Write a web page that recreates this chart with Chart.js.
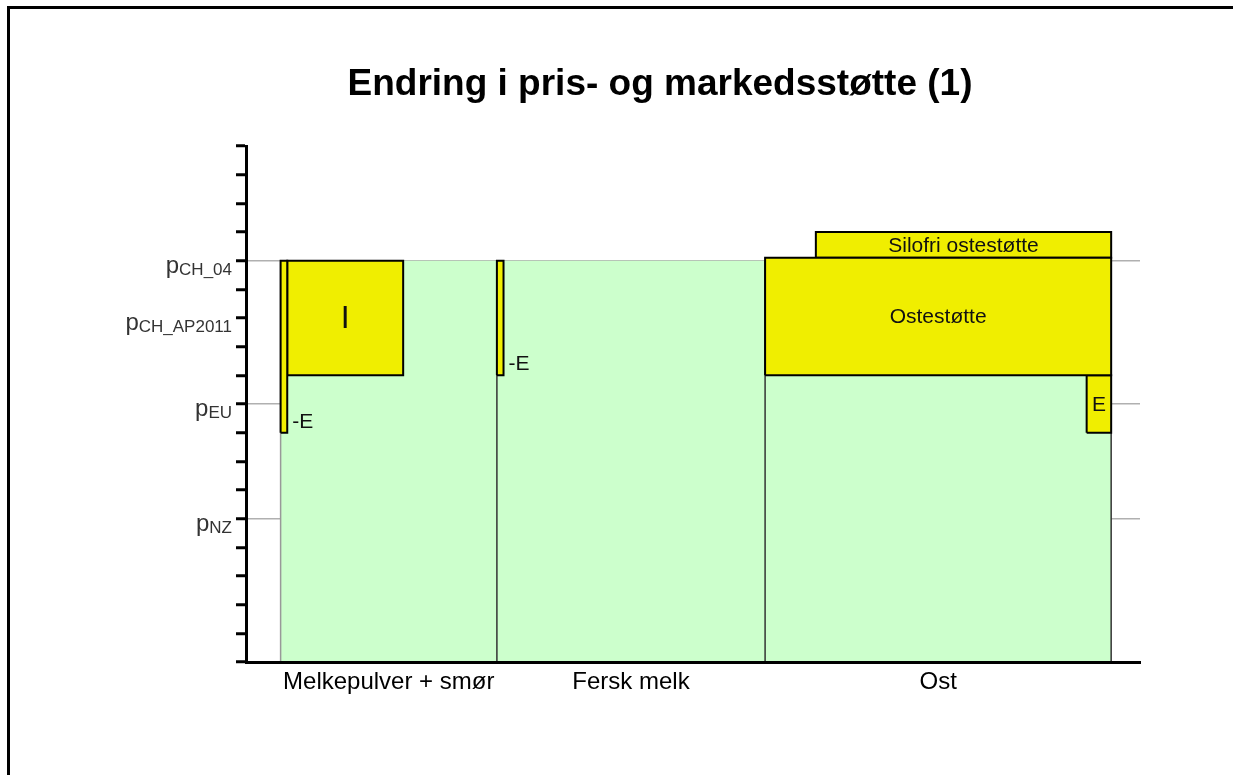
<!DOCTYPE html>
<html>
<head>
<meta charset="utf-8">
<script src="https://cdn.jsdelivr.net/npm/chart.js@4.4.0/dist/chart.umd.min.js"></script>
<style>
  html, body { margin: 0; padding: 0; background: #fff; overflow: hidden; }
  #wrap { position: absolute; left: 0; top: 0; width: 1233px; height: 775px; }
  #frame { position: absolute; left: 7px; top: 6px; width: 1300px; height: 800px;
           border-left: 3px solid #000; border-top: 3px solid #000; }
</style>
</head>
<body>
<div id="wrap"><canvas id="myChart" width="1233" height="775"></canvas></div>
<div id="frame"></div>
<script>
// categories along the quantity axis and where each one starts / ends
const categories = ["Melkepulver + smør", "Fersk melk", "Ost"];
const categoryEdges = [1.2, 8.7, 18, 30];
const marketPrice = [14, 14, 14];

// support / tariff boxes (quantity from-to, price low-high)
const supportNames = ["-E", "I", "-E", "Ostestøtte", "Silofri ostestøtte", "E"];
const supportFrom = [1.2, 1.43, 8.7, 18, 19.76, 29.15];
const supportTo = [1.43, 5.45, 8.93, 30, 30, 30];
const supportLow = [8, 10, 10, 10, 14.1, 8];
const supportHigh = [14, 14, 14, 14.1, 15, 10];

// price levels on the y axis
const priceLevels = [14, 12, 9, 5];
const priceNames = ["CH_04", "CH_AP2011", "EU", "NZ"];
const priceLines = [14, 9, 5];

const yMax = 18;
const xMax = 31;

const FONT = '"Liberation Sans", Arial, sans-serif';
Chart.defaults.font.family = FONT;

function rect(x0, x1, y0, y1) {
  return [
    { x: x0, y: y0 },
    { x: x0, y: y1 },
    { x: x1, y: y1 },
    { x: x1, y: y0 },
    { x: x0, y: y0 }
  ];
}

var datasets = [];

supportNames.forEach(function (name, i) {
  datasets.push({
    label: name,
    data: rect(supportFrom[i], supportTo[i], supportLow[i], supportHigh[i]),
    showLine: true,
    fill: "shape",
    backgroundColor: "#f0ee00",
    borderColor: "#000",
    borderWidth: 2,
    pointRadius: 0,
    tension: 0,
    order: 1
  });
});

// dividers between the categories, drawn up to the market price
categoryEdges.forEach(function (e, i) {
  var h = marketPrice[Math.min(i, marketPrice.length - 1)];
  datasets.push({
    label: "edge " + i,
    data: [{ x: e, y: 0 }, { x: e, y: h }],
    showLine: true,
    fill: false,
    borderColor: i === 0 ? "#999" : "#333",
    borderWidth: 1.5,
    pointRadius: 0,
    order: 2
  });
});

categories.forEach(function (c, i) {
  datasets.push({
    label: c,
    data: rect(categoryEdges[i], categoryEdges[i + 1], 0, marketPrice[i]),
    showLine: true,
    fill: "shape",
    backgroundColor: "#ccffcc",
    borderWidth: 0,
    pointRadius: 0,
    tension: 0,
    order: 3
  });
});

// text inside / beside the support boxes and the p labels on the y axis
const labelPlugin = {
  id: "labels",
  afterDatasetsDraw: function (chart) {
    var ctx = chart.ctx, xs = chart.scales.x, ys = chart.scales.y;
    ctx.save();
    ctx.fillStyle = "#111";
    supportNames.forEach(function (name, i) {
      var left = xs.getPixelForValue(supportFrom[i]);
      var right = xs.getPixelForValue(supportTo[i]);
      var top = ys.getPixelForValue(supportHigh[i]);
      var bottom = ys.getPixelForValue(supportLow[i]);
      var size = (name.length === 1 && bottom - top > 80) ? 32 : 21;
      ctx.font = size + "px " + FONT;
      var w = ctx.measureText(name).width;
      if (w + 6 > right - left) {
        ctx.textAlign = "left";
        ctx.textBaseline = "alphabetic";
        ctx.fillText(name, right + 5, bottom - 5);
      } else {
        ctx.textAlign = "center";
        ctx.textBaseline = "middle";
        ctx.fillText(name, (left + right) / 2, (top + bottom) / 2 + 1);
      }
    });
    ctx.restore();
  },
  afterDraw: function (chart) {
    var ctx = chart.ctx, ys = chart.scales.y;
    var xr = chart.chartArea.left - 14;
    ctx.save();
    ctx.fillStyle = "#333";
    ctx.textAlign = "left";
    ctx.textBaseline = "alphabetic";
    priceLevels.forEach(function (v, i) {
      var py = ys.getPixelForValue(v);
      ctx.font = "17px " + FONT;
      var subW = ctx.measureText(priceNames[i]).width;
      ctx.fillText(priceNames[i], xr - subW, py + 14);
      ctx.font = "24px " + FONT;
      var pW = ctx.measureText("p").width;
      ctx.fillText("p", xr - subW - pW, py + 12);
    });
    ctx.restore();
  }
};

var ctx = document.getElementById("myChart").getContext("2d");
var chart = new Chart(ctx, {
  type: "scatter",
  data: { datasets: datasets },
  options: {
    responsive: false,
    animation: false,
    events: [],
    layout: { padding: { left: 180, right: 93, top: 0, bottom: 73 } },
    plugins: {
      legend: { display: false },
      tooltip: { enabled: false },
      title: {
        display: true,
        text: "Endring i pris- og markedsstøtte (1)",
        color: "#000",
        font: { size: 37, weight: "bold", family: FONT },
        padding: { top: 63, bottom: 38.6 }
      }
    },
    scales: {
      x: {
        type: "linear",
        min: 0,
        max: xMax,
        grid: { display: false, drawTicks: false },
        border: { color: "#000", width: 3, z: 1 },
        afterBuildTicks: function (s) {
          s.ticks = categories.map(function (c, i) {
            return { value: (categoryEdges[i] + categoryEdges[i + 1]) / 2 };
          });
        },
        ticks: {
          autoSkip: false,
          maxRotation: 0,
          padding: 6,
          color: "#000",
          font: { size: 24, family: FONT },
          callback: function (v, i) { return categories[i]; }
        },
        afterFit: function (s) { s.height = 40; }
      },
      y: {
        min: 0,
        max: yMax,
        ticks: { stepSize: 1, display: false },
        grid: {
          color: function (c) {
            return c.tick && priceLines.indexOf(c.tick.value) >= 0 ? "#b0b0b0" : "rgba(0,0,0,0)";
          },
          lineWidth: 1.5,
          drawTicks: true,
          tickLength: 10,
          tickWidth: 3,
          tickColor: "#000"
        },
        border: { color: "#000", width: 3, z: 1 },
        afterFit: function (s) { s.width = 66; }
      }
    }
  },
  plugins: [labelPlugin]
});
</script>
</body>
</html>
